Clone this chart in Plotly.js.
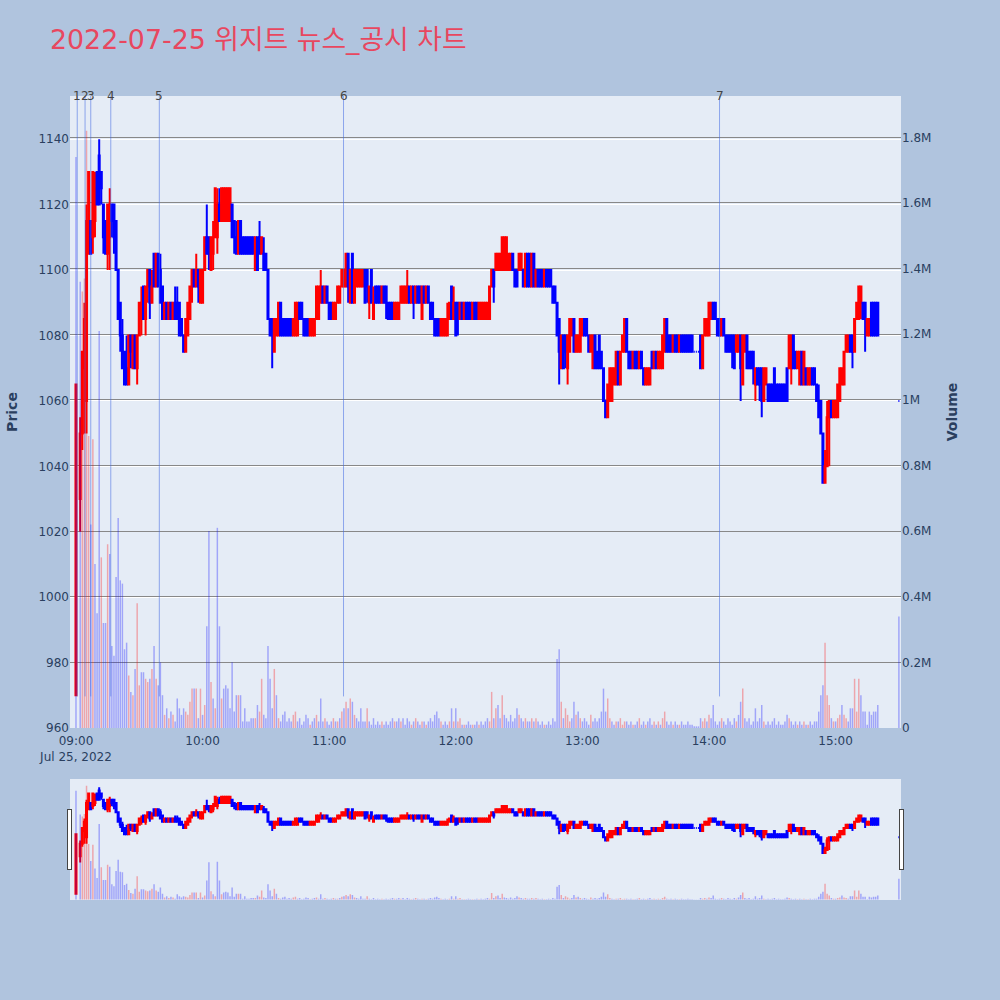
<!DOCTYPE html>
<html>
<head>
<meta charset="utf-8">
<script src="https://cdn.plot.ly/plotly-3.0.1.min.js"></script>
<style>html,body{margin:0;padding:0;background:#B0C4DE;}</style>
</head>
<body>
<div id="chart" style="width:1000px;height:1000px;"></div>
<script>
// 1-minute bars for 2022-07-25, 09:00 .. 15:20, then the 15:30 closing print
const tradeDate = '2022-07-25';
const closingTime = '15:30';

const openPrice = [
  970, null, 1030, 1050, 1070, 1060, 1105, 1115, 1110, 1115,
  1130, 1135, 1130, 1120, 1115, 1105, 1110, 1120, 1120, 1115,
  1100, 1090, 1080, 1075, 1070, 1065, 1080, 1070, 1080, 1070,
  1080, 1085, 1095, 1085, 1095, 1100, 1090, 1105, 1095, 1105,
  1100, 1095, 1085, 1090, 1085, 1090, 1085, 1090, 1090, 1090,
  1085, 1080, 1075, 1080, 1085, 1095, 1100, 1095, 1100, 1090,
  1090, 1100, 1110, 1110, 1100, 1105, 1110, 1110, 1120, 1115,
  1115, 1115, 1115, 1115, 1120, 1115, 1110, 1105, 1115, 1110,
  1110, 1110, 1110, 1110, 1110, 1100, 1110, 1110, 1105, 1105,
  1105, 1100, 1085, 1085, 1075, 1080, 1080, 1090, 1085, 1085,
  1085, 1085, 1085, 1080, 1080, 1080, 1090, 1090, 1085, 1085,
  1085, 1080, 1080, 1080, 1085, 1085, 1090, 1095, 1090, 1095,
  1090, 1090, 1085, 1085, 1090, 1090, 1095, 1095, 1095, 1105,
  1090, 1105, 1090, 1095, 1095, 1095, 1095, 1100, 1100, 1090,
  1100, 1085, 1095, 1095, 1095, 1090, 1095, 1095, 1090, 1090,
  1090, 1085, 1085, 1085, 1090, 1090, 1090, 1090, 1095, 1090,
  1095, 1090, 1095, 1095, 1085, 1095, 1090, 1095, 1090, 1090,
  1085, 1085, 1085, 1080, 1080, 1080, 1080, 1085, 1095, 1085,
  1090, 1090, 1085, 1090, 1085, 1090, 1090, 1090, 1085, 1090,
  1090, 1085, 1085, 1085, 1085, 1085, 1085, 1095, 1100, 1100,
  1100, 1100, 1100, 1100, 1100, 1100, 1100, 1105, 1100, 1100,
  1100, 1100, 1100, 1095, 1105, 1105, 1095, 1105, 1095, 1100,
  1100, 1100, 1095, 1100, 1100, 1100, 1095, 1095, 1090, 1085,
  1070, 1080, 1080, 1070, 1075, 1080, 1085, 1075, 1075, 1075,
  1080, 1085, 1085, 1080, 1075, 1070, 1080, 1075, 1080, 1075,
  1070, 1060, 1055, 1060, 1060, 1065, 1065, 1075, 1065, 1075,
  1075, 1085, 1075, 1075, 1070, 1075, 1075, 1070, 1075, 1070,
  1065, 1065, 1065, 1075, 1070, 1075, 1070, 1070, 1070, 1075,
  1085, 1080, 1080, 1075, 1080, 1080, 1075, 1080, 1080, 1080,
  1080, 1080, 1080, 1075, 1075, 1075, 1080, 1070, 1080, 1080,
  1080, 1085, 1090, 1090, 1085, 1085, 1080, 1085, 1080, 1080,
  1080, 1080, 1080, 1075, 1075, 1080, 1065, 1075, 1080, 1075,
  1075, 1075, 1065, 1070, 1070, 1070, 1060, 1065, 1065, 1065,
  1065, 1070, 1065, 1065, 1065, 1065, 1065, 1070, 1070, 1070,
  1080, 1075, 1070, 1065, 1075, 1065, 1070, 1065, 1065, 1070,
  1070, 1065, 1060, 1060, 1050, 1035, 1040, 1055, 1060, 1055,
  1055, 1055, 1060, 1065, 1065, 1075, 1075, 1080, 1080, 1075,
  1085, 1085, 1090, 1090, 1090, 1080, 1080, 1090, 1090, 1090,
  1090,
  1060
];

const highPrice = [
  1065, null, 1055, 1075, 1090, 1120, 1130, 1115, 1130, 1130,
  1130, 1140, 1130, 1120, 1115, 1120, 1125, 1120, 1120, 1115,
  1100, 1090, 1085, 1075, 1080, 1080, 1080, 1080, 1080, 1080,
  1090, 1095, 1095, 1095, 1100, 1100, 1100, 1105, 1105, 1105,
  1105, 1095, 1090, 1090, 1090, 1090, 1090, 1095, 1095, 1090,
  1085, 1080, 1085, 1090, 1095, 1100, 1100, 1105, 1100, 1100,
  1100, 1110, 1120, 1110, 1110, 1115, 1125, 1125, 1125, 1125,
  1125, 1125, 1125, 1125, 1120, 1115, 1115, 1115, 1115, 1110,
  1110, 1110, 1110, 1110, 1110, 1110, 1110, 1115, 1110, 1110,
  1105, 1100, 1085, 1085, 1085, 1085, 1090, 1090, 1085, 1085,
  1085, 1085, 1085, 1085, 1090, 1090, 1090, 1090, 1085, 1085,
  1085, 1085, 1085, 1085, 1095, 1095, 1100, 1095, 1095, 1095,
  1090, 1090, 1090, 1090, 1095, 1095, 1100, 1100, 1105, 1105,
  1100, 1105, 1100, 1100, 1100, 1100, 1100, 1100, 1100, 1095,
  1100, 1095, 1095, 1095, 1095, 1095, 1095, 1095, 1090, 1090,
  1090, 1090, 1090, 1090, 1095, 1095, 1095, 1100, 1095, 1095,
  1095, 1095, 1095, 1095, 1095, 1095, 1095, 1095, 1090, 1090,
  1085, 1085, 1085, 1085, 1085, 1085, 1090, 1090, 1095, 1095,
  1090, 1090, 1090, 1090, 1090, 1090, 1090, 1090, 1090, 1090,
  1090, 1090, 1090, 1090, 1090, 1090, 1095, 1100, 1100, 1105,
  1105, 1105, 1110, 1110, 1110, 1105, 1105, 1105, 1100, 1100,
  1105, 1105, 1100, 1105, 1105, 1105, 1105, 1105, 1100, 1100,
  1100, 1100, 1100, 1100, 1100, 1100, 1095, 1095, 1090, 1085,
  1080, 1080, 1080, 1080, 1085, 1085, 1085, 1080, 1080, 1085,
  1085, 1085, 1085, 1080, 1080, 1080, 1080, 1075, 1080, 1075,
  1070, 1060, 1065, 1070, 1070, 1070, 1075, 1075, 1075, 1080,
  1085, 1085, 1075, 1075, 1075, 1075, 1075, 1075, 1075, 1070,
  1070, 1070, 1070, 1075, 1075, 1075, 1075, 1075, 1080, 1085,
  1085, 1080, 1080, 1080, 1080, 1080, 1080, 1080, 1080, 1080,
  1080, 1080, 1080, 1075, 1075, 1075, 1080, 1080, 1085, 1085,
  1090, 1090, 1090, 1090, 1085, 1085, 1085, 1085, 1080, 1080,
  1080, 1080, 1080, 1080, 1080, 1080, 1080, 1080, 1080, 1075,
  1075, 1075, 1070, 1070, 1070, 1070, 1070, 1070, 1065, 1065,
  1065, 1070, 1065, 1065, 1065, 1065, 1065, 1070, 1080, 1080,
  1080, 1075, 1075, 1075, 1075, 1075, 1070, 1070, 1070, 1070,
  1070, 1065, 1065, 1060, 1050, 1045, 1060, 1060, 1060, 1060,
  1060, 1065, 1070, 1070, 1075, 1080, 1080, 1080, 1080, 1085,
  1090, 1095, 1095, 1090, 1090, 1085, 1085, 1090, 1090, 1090,
  1090,
  1060
];

const lowPrice = [
  970, null, 1020, 1045, 1050, 1050, 1105, 1105, 1105, 1110,
  1120, 1120, 1120, 1105, 1105, 1100, 1100, 1110, 1105, 1100,
  1085, 1075, 1070, 1065, 1065, 1065, 1070, 1070, 1070, 1065,
  1080, 1080, 1085, 1080, 1090, 1085, 1090, 1095, 1095, 1095,
  1090, 1085, 1085, 1085, 1085, 1085, 1085, 1085, 1085, 1080,
  1080, 1075, 1075, 1080, 1085, 1090, 1095, 1095, 1090, 1090,
  1090, 1100, 1105, 1100, 1100, 1100, 1110, 1105, 1115, 1115,
  1115, 1115, 1115, 1115, 1110, 1105, 1105, 1105, 1105, 1105,
  1105, 1105, 1105, 1105, 1105, 1100, 1100, 1105, 1105, 1100,
  1100, 1085, 1080, 1070, 1075, 1080, 1080, 1080, 1080, 1080,
  1080, 1080, 1080, 1080, 1080, 1080, 1085, 1085, 1080, 1080,
  1080, 1080, 1080, 1080, 1085, 1085, 1090, 1090, 1090, 1090,
  1085, 1085, 1085, 1085, 1090, 1090, 1095, 1095, 1095, 1090,
  1090, 1090, 1090, 1095, 1095, 1095, 1095, 1090, 1090, 1085,
  1090, 1085, 1090, 1090, 1090, 1090, 1090, 1085, 1085, 1085,
  1085, 1085, 1085, 1085, 1090, 1090, 1090, 1090, 1090, 1090,
  1085, 1090, 1090, 1090, 1085, 1090, 1090, 1090, 1085, 1085,
  1080, 1080, 1080, 1080, 1080, 1080, 1080, 1085, 1085, 1085,
  1080, 1080, 1085, 1085, 1085, 1085, 1085, 1085, 1085, 1085,
  1085, 1085, 1085, 1085, 1085, 1085, 1085, 1095, 1090, 1100,
  1100, 1100, 1100, 1100, 1100, 1100, 1100, 1100, 1095, 1095,
  1100, 1100, 1095, 1095, 1095, 1095, 1095, 1095, 1095, 1095,
  1095, 1095, 1095, 1095, 1095, 1095, 1090, 1090, 1080, 1065,
  1070, 1070, 1070, 1065, 1075, 1080, 1075, 1075, 1075, 1075,
  1080, 1080, 1080, 1075, 1075, 1070, 1070, 1070, 1070, 1070,
  1060, 1055, 1055, 1060, 1060, 1065, 1065, 1065, 1065, 1075,
  1075, 1075, 1070, 1070, 1070, 1070, 1070, 1070, 1070, 1065,
  1065, 1065, 1065, 1070, 1070, 1070, 1070, 1070, 1070, 1075,
  1075, 1075, 1075, 1075, 1075, 1075, 1075, 1075, 1075, 1075,
  1075, 1075, 1075, 1075, 1075, 1075, 1070, 1070, 1080, 1080,
  1080, 1085, 1085, 1085, 1080, 1080, 1080, 1080, 1075, 1075,
  1075, 1070, 1070, 1075, 1075, 1060, 1065, 1075, 1070, 1070,
  1070, 1065, 1060, 1065, 1060, 1055, 1060, 1065, 1060, 1060,
  1060, 1060, 1060, 1060, 1060, 1060, 1060, 1060, 1070, 1065,
  1070, 1070, 1070, 1065, 1065, 1065, 1065, 1065, 1065, 1065,
  1065, 1060, 1055, 1050, 1035, 1035, 1040, 1040, 1055, 1055,
  1055, 1055, 1060, 1065, 1065, 1075, 1075, 1075, 1070, 1075,
  1085, 1085, 1085, 1085, 1075, 1080, 1080, 1080, 1080, 1080,
  1080,
  1060
];

const closePrice = [
  1065, null, 1050, 1075, 1085, 1115, 1130, 1105, 1130, 1125,
  1120, 1120, 1125, 1110, 1105, 1120, 1120, 1115, 1110, 1100,
  1085, 1080, 1070, 1065, 1065, 1080, 1075, 1080, 1070, 1080,
  1090, 1090, 1085, 1095, 1100, 1090, 1095, 1095, 1105, 1095,
  1090, 1085, 1090, 1085, 1090, 1085, 1090, 1085, 1085, 1080,
  1080, 1075, 1085, 1090, 1095, 1100, 1095, 1100, 1095, 1100,
  1100, 1110, 1105, 1105, 1110, 1110, 1125, 1120, 1115, 1125,
  1125, 1125, 1125, 1125, 1110, 1110, 1105, 1115, 1105, 1105,
  1105, 1105, 1105, 1105, 1105, 1110, 1100, 1105, 1110, 1100,
  1100, 1085, 1080, 1080, 1085, 1085, 1090, 1080, 1080, 1080,
  1080, 1080, 1080, 1085, 1090, 1090, 1085, 1085, 1080, 1080,
  1080, 1085, 1085, 1085, 1095, 1095, 1095, 1090, 1095, 1090,
  1085, 1085, 1090, 1090, 1095, 1095, 1100, 1100, 1105, 1095,
  1100, 1090, 1100, 1100, 1100, 1100, 1100, 1090, 1095, 1095,
  1090, 1090, 1090, 1090, 1090, 1095, 1090, 1090, 1085, 1085,
  1085, 1090, 1090, 1090, 1095, 1095, 1095, 1095, 1090, 1095,
  1090, 1095, 1090, 1090, 1095, 1090, 1095, 1090, 1085, 1085,
  1080, 1080, 1080, 1085, 1085, 1085, 1085, 1090, 1085, 1090,
  1080, 1085, 1090, 1085, 1090, 1085, 1085, 1085, 1090, 1085,
  1085, 1090, 1090, 1090, 1090, 1090, 1095, 1100, 1095, 1105,
  1105, 1105, 1110, 1110, 1110, 1105, 1105, 1100, 1095, 1095,
  1105, 1105, 1095, 1105, 1095, 1095, 1105, 1095, 1100, 1095,
  1095, 1095, 1100, 1095, 1095, 1095, 1090, 1090, 1080, 1075,
  1080, 1070, 1075, 1080, 1085, 1085, 1075, 1080, 1080, 1085,
  1085, 1080, 1080, 1075, 1080, 1080, 1070, 1070, 1070, 1070,
  1060, 1055, 1065, 1070, 1070, 1070, 1075, 1065, 1075, 1080,
  1085, 1075, 1070, 1070, 1075, 1070, 1070, 1075, 1070, 1065,
  1070, 1070, 1070, 1070, 1075, 1070, 1075, 1075, 1080, 1085,
  1075, 1075, 1075, 1080, 1075, 1075, 1080, 1075, 1075, 1075,
  1075, 1075, 1075, 1075, 1075, 1075, 1070, 1080, 1085, 1085,
  1090, 1090, 1085, 1085, 1080, 1080, 1085, 1080, 1075, 1075,
  1075, 1075, 1070, 1080, 1080, 1070, 1080, 1080, 1070, 1070,
  1070, 1070, 1070, 1065, 1065, 1060, 1070, 1070, 1060, 1060,
  1060, 1060, 1060, 1060, 1060, 1060, 1060, 1060, 1080, 1080,
  1070, 1070, 1075, 1075, 1065, 1075, 1065, 1070, 1070, 1065,
  1065, 1060, 1055, 1050, 1035, 1040, 1055, 1060, 1055, 1060,
  1060, 1065, 1070, 1070, 1075, 1080, 1080, 1075, 1075, 1085,
  1090, 1095, 1095, 1085, 1085, 1085, 1085, 1080, 1080, 1080,
  1080,
  1060
];

const volume = [
  1740000, null, 1360000, 1330000, 1370000, 1820000, 890000, 620000, 880000, 500000,
  350000, 1210000, 520000, 320000, 320000, 560000, 530000, 250000, 220000, 460000,
  640000, 450000, 440000, 240000, 260000, 160000, 110000, 100000, 180000, 380000,
  130000, 170000, 170000, 150000, 140000, 150000, 180000, 250000, 150000, 130000,
  200000, 100000, 40000, 60000, 30000, 50000, 40000, 20000, 90000, 60000,
  40000, 60000, 50000, 40000, 80000, 120000, 120000, 120000, 30000, 120000,
  40000, 70000, 310000, 600000, 140000, 90000, 60000, 610000, 310000, 90000,
  120000, 130000, 120000, 60000, 200000, 50000, 100000, 100000, 100000, 20000,
  60000, 20000, 20000, 30000, 30000, 30000, 70000, 50000, 150000, 40000,
  30000, 250000, 150000, 60000, 180000, 100000, 30000, 20000, 40000, 50000,
  20000, 30000, 20000, 40000, 50000, 20000, 30000, 10000, 20000, 40000,
  30000, 10000, 20000, 30000, 40000, 20000, 90000, 20000, 30000, 20000,
  10000, 20000, 30000, 20000, 20000, 30000, 50000, 60000, 80000, 60000,
  90000, 80000, 40000, 30000, 20000, 60000, 20000, 20000, 60000, 20000,
  10000, 30000, 10000, 20000, 10000, 20000, 10000, 20000, 10000, 20000,
  30000, 20000, 20000, 30000, 20000, 30000, 10000, 30000, 20000, 10000,
  20000, 30000, 20000, 10000, 20000, 20000, 10000, 20000, 30000, 20000,
  40000, 50000, 30000, 20000, 10000, 20000, 10000, 20000, 60000, 20000,
  60000, 20000, 30000, 10000, 10000, 10000, 20000, 10000, 10000, 10000,
  20000, 10000, 20000, 10000, 20000, 30000, 20000, 110000, 30000, 60000,
  70000, 30000, 100000, 40000, 30000, 20000, 40000, 20000, 30000, 60000,
  40000, 30000, 20000, 30000, 20000, 20000, 30000, 20000, 30000, 20000,
  10000, 20000, 10000, 10000, 20000, 10000, 30000, 20000, 210000, 240000,
  80000, 30000, 60000, 40000, 20000, 30000, 80000, 40000, 50000, 30000,
  20000, 30000, 20000, 10000, 40000, 20000, 30000, 20000, 30000, 50000,
  120000, 50000, 90000, 30000, 20000, 10000, 20000, 20000, 30000, 10000,
  20000, 20000, 10000, 20000, 10000, 10000, 20000, 30000, 10000, 20000,
  10000, 20000, 30000, 10000, 20000, 10000, 20000, 10000, 30000, 50000,
  20000, 10000, 20000, 10000, 20000, 10000, 10000, 20000, 10000, 10000,
  20000, 10000, 10000, 5000, 5000, 5000, 30000, 20000, 30000, 20000,
  40000, 30000, 70000, 20000, 10000, 20000, 30000, 20000, 10000, 30000,
  20000, 10000, 30000, 20000, 40000, 80000, 120000, 30000, 20000, 30000,
  10000, 20000, 60000, 20000, 30000, 70000, 20000, 10000, 20000, 10000,
  20000, 30000, 10000, 20000, 10000, 10000, 20000, 40000, 30000, 20000,
  10000, 20000, 10000, 20000, 10000, 20000, 10000, 10000, 20000, 10000,
  20000, 20000, 50000, 100000, 130000, 260000, 100000, 70000, 30000, 20000,
  20000, 30000, 40000, 70000, 40000, 30000, 20000, 60000, 60000, 150000,
  50000, 150000, 100000, 50000, 50000, 10000, 50000, 40000, 50000, 50000,
  70000,
  340000
];

// news / disclosure timestamps, numbered 1..7
const newsLabels = ['1', '2', '3', '4', '5', '6', '7'];
const newsTimes = ['09:00:36', '09:04:18', '09:07:00', '09:16:30', '09:39:30', '11:06:48', '14:05:00'];

const volumeTickVals = [0, 200000, 400000, 600000, 800000, 1000000, 1200000, 1400000, 1600000, 1800000];
const volumeTickText = ['0', '0.2M', '0.4M', '0.6M', '0.8M', '1M', '1.2M', '1.4M', '1.6M', '1.8M'];

// minute timestamps 09:00 .. 15:20, then the closing print
function pad(n) { return (n < 10 ? '0' : '') + n; }
const times = [];
for (let m = 0; m <= 380; m++) {
  const t = 9 * 60 + m;
  times.push(tradeDate + ' ' + pad(Math.floor(t / 60)) + ':' + pad(t % 60));
}
times.push(tradeDate + ' ' + closingTime);

// volume bar colour follows the move against the previous close
const upColor = 'rgba(255,0,0,0.3)';
const downColor = 'rgba(0,0,255,0.3)';
const volColors = [];
let prevClose = null;
for (let i = 0; i < closePrice.length; i++) {
  const c = closePrice[i];
  volColors.push(prevClose !== null && c !== null && c > prevClose ? upColor : downColor);
  if (c !== null) prevClose = c;
}

const font = 'DejaVu Sans, Verdana, "Noto Sans CJK KR", sans-serif';

const candles = {
  type: 'candlestick',
  x: times, open: openPrice, high: highPrice, low: lowPrice, close: closePrice,
  increasing: {line: {color: 'red', width: 2}, fillcolor: 'red'},
  decreasing: {line: {color: 'blue', width: 2}, fillcolor: 'blue'},
  name: 'Price', xaxis: 'x', yaxis: 'y', hoverinfo: 'x+y'
};

const bars = {
  type: 'bar', x: times, y: volume,
  marker: {color: volColors, line: {width: 0}},
  name: 'Volume', xaxis: 'x', yaxis: 'y2'
};

const shapes = newsTimes.map(t => ({
  type: 'line', xref: 'x', yref: 'paper',
  x0: tradeDate + ' ' + t, x1: tradeDate + ' ' + t, y0: 0.05, y1: 1,
  line: {color: 'rgba(65,105,225,0.55)', width: 1}
}));

const annotations = newsTimes.map((t, i) => ({
  x: tradeDate + ' ' + t, xref: 'x', y: 1, yref: 'paper',
  yanchor: 'middle', xanchor: 'center',
  text: newsLabels[i], showarrow: false,
  font: {family: font, size: 12, color: '#444'}
}));

const layout = {
  width: 1000, height: 1000,
  paper_bgcolor: '#B0C4DE',
  plot_bgcolor: '#E5ECF6',
  font: {family: font, size: 12, color: '#2a3f5f'},
  showlegend: false,
  title: {
    text: '2022-07-25 위지트 뉴스_공시 차트',
    font: {family: font, size: 26.8, color: '#E8475F'},
    x: 0.05, xanchor: 'left', y: 0.96, yanchor: 'middle'
  },
  margin: {l: 70, r: 99, t: 96, b: 100},
  bargap: 0.3,
  xaxis: {
    type: 'date',
    range: [tradeDate + ' 08:57:10', tradeDate + ' 15:31:00'],
    showgrid: false,
    ticks: 'outside', ticklen: 2, tickcolor: 'rgba(0,0,0,0)',
    rangeslider: {visible: true, bgcolor: '#E5ECF6', thickness: 0.15,
                  range: [tradeDate + ' 08:57:10', tradeDate + ' 15:31:00']}
  },
  yaxis: {
    range: [960, 1153.2], dtick: 20, tick0: 960,
    gridcolor: 'white', zeroline: false, automargin: true,
    title: {text: 'Price', standoff: 17, font: {family: font, size: 14, color: '#2a3f5f', weight: 'bold'}}
  },
  yaxis2: {
    overlaying: 'y', side: 'right',
    range: [0, 1926000],
    tickvals: volumeTickVals, ticktext: volumeTickText,
    gridcolor: '#888', zeroline: false, automargin: true,
    title: {text: 'Volume', standoff: 16, font: {family: font, size: 14, color: '#2a3f5f', weight: 'bold'}}
  },
  shapes: shapes,
  annotations: annotations
};

Plotly.newPlot('chart', [candles, bars], layout, {displayModeBar: false});
</script>
</body>
</html>
